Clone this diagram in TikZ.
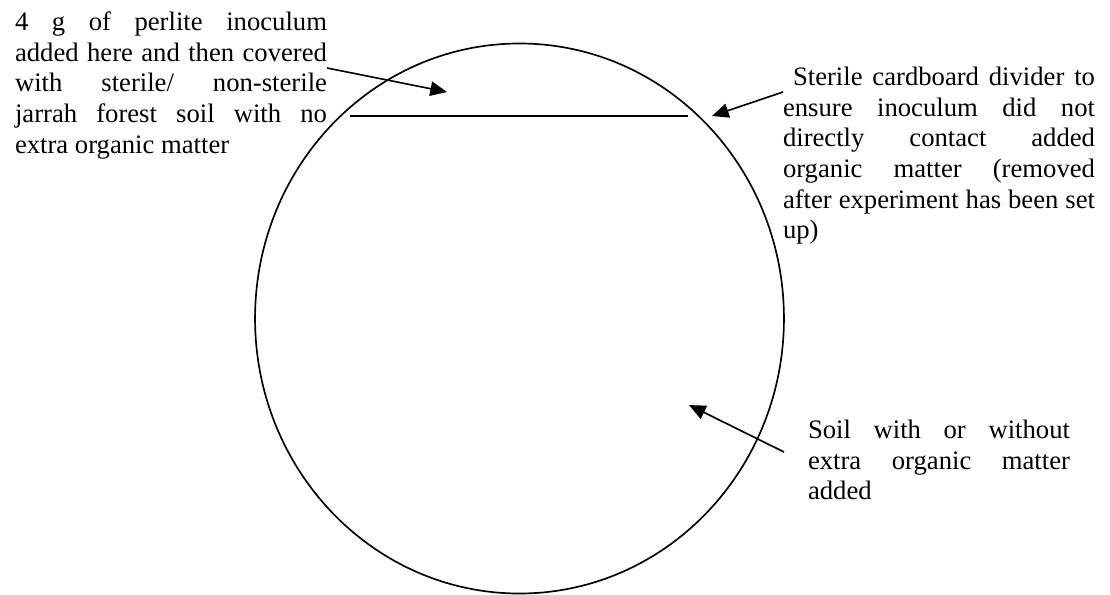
\documentclass[tikz,border=0pt]{standalone}
\usepackage{fontspec}
\setmainfont{Liberation Serif}
\usetikzlibrary{arrows.meta,shapes.geometric}
\begin{document}
\begin{tikzpicture}[x=0.45pt,y=-0.45pt,
  line width=0.75pt,
  lbl/.style={inner sep=0pt, outer sep=0pt, anchor=north west, align=justify,
    font=\fontsize{12}{13.8}\selectfont},
  arr/.style={-{Triangle[length=7.5pt,width=6.5pt]}},
  pot/.style={draw, ellipse, inner sep=0pt, minimum width=238pt, minimum height=247.5pt}]
\useasboundingbox (0,0) rectangle (1110,594);
% container
\node[pot] (pot) at (519.5,318.5) {};
% divider
\coordinate (divL) at (350,116);
\coordinate (divR) at (688,116);
\draw (divL) -- (divR);
% labels
\node[lbl, text width=140.4pt] (t1) at (15,9) {\strut 4 g of perlite inoculum\linebreak added here and then covered\linebreak with sterile/ non-sterile\linebreak jarrah forest soil with no\linebreak extra organic matter};
\node[lbl, text width=140.4pt] (t2) at (783,64) {\strut\hspace*{4.5pt}Sterile cardboard divider to\linebreak ensure inoculum did not\linebreak directly contact added\linebreak organic matter (removed\linebreak after experiment has been set\linebreak up)};
\node[lbl, text width=117.9pt] (t3) at (808,417) {\strut Soil with or without\linebreak extra organic matter\linebreak added};
% arrows
\coordinate (a1s) at (327,68);
\coordinate (a1e) at (447,92);
\coordinate (a2s) at (783,92);
\coordinate (a2e) at (712,116);
\coordinate (a3s) at (784,452);
\coordinate (a3e) at (689,405);
\draw[arr] (a1s) -- (a1e);
\draw[arr] (a2s) -- (a2e);
\draw[arr] (a3s) -- (a3e);
\end{tikzpicture}
\end{document}
